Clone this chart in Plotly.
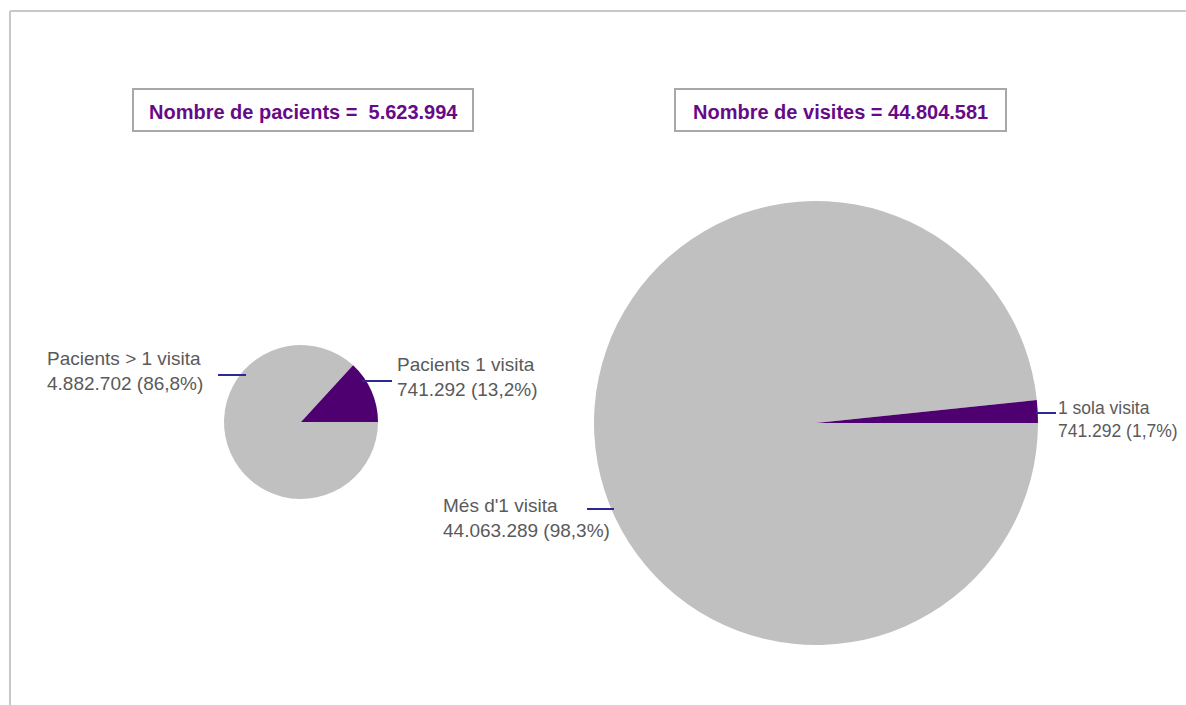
import plotly.graph_objects as go

# data
pat_labels = ["Pacients > 1 visita", "Pacients 1 visita"]
pat_values = [4882702, 741292]
vis_labels = ["Més d'1 visita", "1 sola visita"]
vis_values = [44063289, 741292]
pat_total = "5.623.994"
vis_total = "44.804.581"

PURPLE = "#4e0070"
GREY = "#c0c0c0"
W, H = 1186, 705


def fmt(v):
    return f"{v:,}".replace(",", ".")


def pct(v, tot):
    return f"{100 * v / tot:.1f}".replace(".", ",") + "%"


def px_(x):
    return x / W


def py_(y):
    return 1 - y / H


fig = go.Figure()
fig.add_trace(go.Pie(
    labels=pat_labels, values=pat_values, sort=False, direction="counterclockwise",
    rotation=90, textinfo="none", hoverinfo="label+value+percent",
    marker=dict(colors=[GREY, PURPLE], line=dict(width=0)),
    domain=dict(x=[px_(301 - 77), px_(301 + 77)], y=[py_(422 + 78), py_(422 - 78)]),
))
fig.add_trace(go.Pie(
    labels=vis_labels, values=vis_values, sort=False, direction="counterclockwise",
    rotation=90, textinfo="none", hoverinfo="label+value+percent",
    marker=dict(colors=[GREY, PURPLE], line=dict(width=0)),
    domain=dict(x=[px_(816 - 222), px_(816 + 222)], y=[py_(423 + 222), py_(423 - 222)]),
))

pt = sum(pat_values)
vt = sum(vis_values)
labels = [
    (45, 371, 19, f"{pat_labels[0]}<br>{fmt(pat_values[0])} ({pct(pat_values[0], pt)})"),
    (395, 377, 19, f"{pat_labels[1]}<br>{fmt(pat_values[1])} ({pct(pat_values[1], pt)})"),
    (441, 518, 19, f"{vis_labels[0]}<br>{fmt(vis_values[0])} ({pct(vis_values[0], vt)})"),
    (1056, 419, 17.5, f"{vis_labels[1]}<br>{fmt(vis_values[1])} ({pct(vis_values[1], vt)})"),
]
for x, y, fs, t in labels:
    fig.add_annotation(x=px_(x), y=py_(y), xref="paper", yref="paper", text=t,
                       showarrow=False, xanchor="left", yanchor="middle", align="left",
                       font=dict(family="Liberation Sans, Arial", size=fs, color="#5a5a5a"))

# leader lines
for x0, x1, y in [(218, 246, 375), (362, 392, 381), (587, 614, 509), (1036, 1056, 413)]:
    fig.add_shape(type="line", xref="paper", yref="paper",
                  x0=px_(x0), x1=px_(x1), y0=py_(y), y1=py_(y),
                  line=dict(color="#2a2a90", width=2))

# title boxes
box_font = dict(family="Liberation Sans, Arial", size=20, color="#670a88")
for x0, x1, t in [(133, 473, f"<b>Nombre de pacients =\u00a0\u00a0{pat_total}</b>"),
                  (675, 1006, f"<b>Nombre de visites = {vis_total}</b>")]:
    fig.add_shape(type="rect", xref="paper", yref="paper",
                  x0=px_(x0), x1=px_(x1), y0=py_(131), y1=py_(89),
                  line=dict(color="#a8a8a8", width=2), fillcolor="white")
    fig.add_annotation(x=px_((x0 + x1) / 2), y=py_(112), xref="paper", yref="paper",
                       text=t, showarrow=False, xanchor="center", yanchor="middle",
                       font=box_font)

# frame
fig.add_shape(type="line", xref="paper", yref="paper", x0=px_(10), x1=1, y0=py_(11), y1=py_(11),
              line=dict(color="#c8c8c8", width=2))
fig.add_shape(type="line", xref="paper", yref="paper", x0=px_(10), x1=px_(10), y0=0, y1=py_(11),
              line=dict(color="#c8c8c8", width=2))

fig.update_layout(width=W, height=H, margin=dict(l=0, r=0, t=0, b=0),
                  paper_bgcolor="white", plot_bgcolor="white", showlegend=False)
fig.write_html("out.html", config={"displayModeBar": False},
               post_script="document.body.style.margin='0';")
